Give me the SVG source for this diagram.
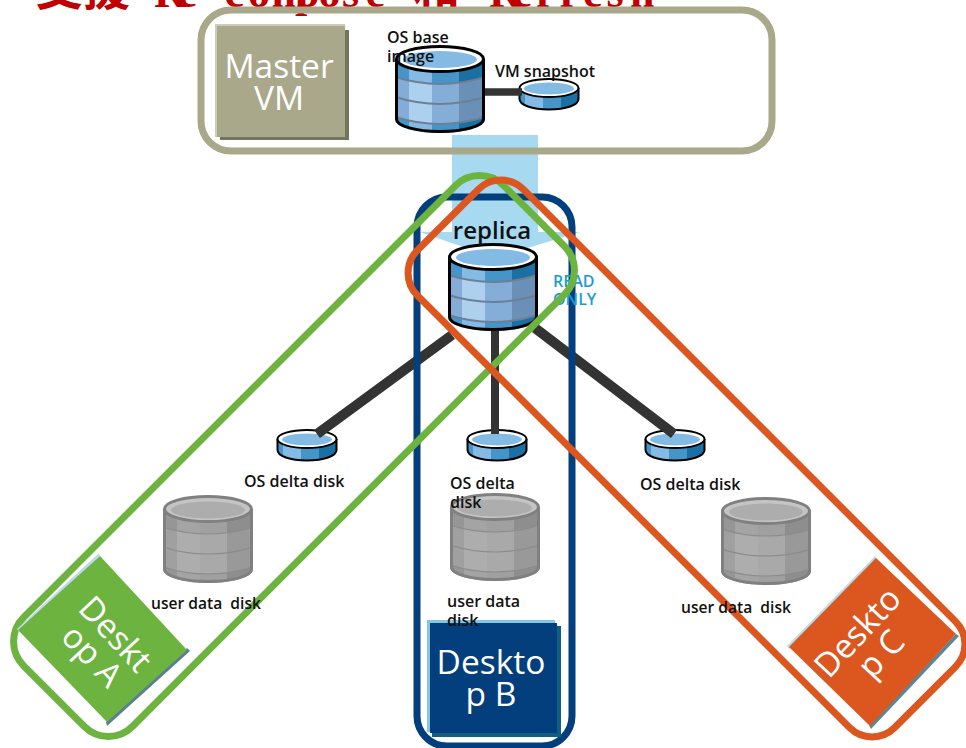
<svg xmlns="http://www.w3.org/2000/svg" width="966" height="748" viewBox="0 0 966 748">
<style>
text{font-family:"Open Sans","Noto Sans","Liberation Sans",sans-serif}
.lb{font-size:16px;font-weight:600;fill:#111}
.ud{font-size:15.600px}
.big{font-size:33.500px;font-weight:500;fill:#fff;text-anchor:middle}
.ro{font-size:16px;font-weight:600;fill:#1a9cd8}
.frame{fill:none;stroke-width:7}
.spoke{stroke:#333;stroke-width:10;fill:none}
.tc{font-size:47px;font-weight:700;fill:#c00000;font-family:"Noto Sans CJK TC",serif}
.tl{font-size:44px;font-weight:700;fill:#c00000;font-family:"Liberation Serif",serif}
</style>
<defs>
<clipPath id="bodyClip"><path d="M0 14V74C0 82 20 88 45 88S90 82 90 74V14Z"/></clipPath>
<clipPath id="midClip"><path d="M0 32Q45 46 90 32V72Q45 86 0 72Z"/></clipPath>
<clipPath id="smallClip"><path d="M1 10V21C1 27 14 32 31 32S61 27 61 21V10Z"/></clipPath>
<g id="cylBlue">
<g clip-path="url(#bodyClip)">
<rect x="0" y="0" width="14" height="90" fill="#4595c9"/>
<rect x="14" y="0" width="23" height="90" fill="#84bae4"/>
<rect x="37" y="0" width="27" height="90" fill="#4595c9"/>
<rect x="64" y="0" width="26" height="90" fill="#1a6fa3"/>
<g clip-path="url(#midClip)">
<rect x="0" y="0" width="14" height="90" fill="#84acd6"/>
<rect x="14" y="0" width="23" height="90" fill="#aed0ef"/>
<rect x="37" y="0" width="27" height="90" fill="#84aed8"/>
<rect x="64" y="0" width="26" height="90" fill="#6b90b8"/>
</g>
<path d="M0 32Q45 46 90 32M0 52Q45 66 90 52M0 72Q45 86 90 72" fill="none" stroke="#6c7f95" stroke-width="2"/>
</g>
<path d="M1.500 14V74C1.500 81 21 86.500 45 86.500S88.500 81 88.500 74V14" fill="none" stroke="#000" stroke-width="3"/>
<ellipse cx="45" cy="14" rx="43.500" ry="12.500" fill="#fff" stroke="#000" stroke-width="3"/>
<ellipse cx="45" cy="14.500" rx="37" ry="8.500" fill="#84bbe5"/>
</g>
<g id="cylGrey">
<g clip-path="url(#bodyClip)">
<rect x="0" y="0" width="14" height="90" fill="#969696"/>
<rect x="14" y="0" width="23" height="90" fill="#a4a4a4"/>
<rect x="37" y="0" width="27" height="90" fill="#a0a0a0"/>
<rect x="64" y="0" width="26" height="90" fill="#8e8e8e"/>
<path d="M0 32Q45 46 90 32V72Q45 86 0 72Z" fill="#fff" opacity=".1"/>
<path d="M0 32Q45 46 90 32M0 52Q45 66 90 52M0 72Q45 86 90 72" fill="none" stroke="#8c8c8c" stroke-width="1.200"/>
</g>
<path d="M1.500 14V74C1.500 81 21 86.500 45 86.500S88.500 81 88.500 74V14" fill="none" stroke="#808080" stroke-width="3"/>
<ellipse cx="45" cy="14" rx="43.500" ry="12.500" fill="#c4c4c4" stroke="#808080" stroke-width="3"/>
<ellipse cx="45" cy="15" rx="37" ry="8.500" fill="#adadad"/>
</g>
<g id="cylSmall">
<g clip-path="url(#smallClip)">
<rect x="0" y="0" width="7" height="33" fill="#4595c9"/>
<rect x="7" y="0" width="18" height="33" fill="#84bae4"/>
<rect x="25" y="0" width="18" height="33" fill="#4595c9"/>
<rect x="43" y="0" width="19" height="33" fill="#1a6fa3"/>
</g>
<path d="M1.500 10V21C1.500 27 14 31.500 31 31.500S60.500 27 60.500 21V10" fill="none" stroke="#000" stroke-width="2"/>
<ellipse cx="31" cy="10" rx="29.500" ry="9" fill="#fff" stroke="#000" stroke-width="2"/>
<ellipse cx="31" cy="10.500" rx="25" ry="6" fill="#84bbe5"/>
</g>
</defs>

<g id="title">
<text class="tc" x="36" y="5">支援</text>
<text class="tl" y="7" x="154 177.500 201 224.500 248 271.500 295 318.500 342 365.500">Re-compose</text>
<text class="tc" x="413" y="5">和</text>
<text class="tl" y="7" x="489 512.500 536 559.500 583 606.500 630">Refresh</text>
</g>

<path id="flow" d="M452 135H538V232H580L495 258L420 232H452Z" fill="#a7daf0"/>

<g id="master-frame"><rect x="201" y="10" width="571" height="141" rx="30" class="frame" stroke="#a9a88a"/></g>

<g id="master-vm">
<rect x="215" y="24" width="130" height="113" fill="#ccccb8"/>
<rect x="220" y="30" width="129" height="110" fill="#75755f"/>
<rect x="217" y="26" width="128" height="111" fill="#a9a88a"/>
<text class="big" x="279" y="78">Master</text>
<text class="big" x="279" y="110">VM</text>
</g>

<g id="delta-a"><use href="#cylSmall" x="276" y="429"/><text class="lb" x="244" y="487">OS delta disk</text></g>
<g id="delta-c"><use href="#cylSmall" x="644" y="429"/><text class="lb" x="640" y="490">OS delta disk</text></g>
<g id="user-b-disk"><use href="#cylGrey" x="450" y="493"/></g>
<g id="delta-b"><use href="#cylSmall" x="466" y="429"/><text class="lb" x="450" y="489">OS delta</text><text class="lb" x="450" y="508">disk</text></g>
<g id="vm-snapshot"><use href="#cylSmall" x="518" y="78"/></g>

<g id="connectors">
<path class="spoke" style="stroke-width:7.500" d="M485 92H522"/>
<path class="spoke" d="M452 335L317 434"/>
<path class="spoke" style="stroke-width:8" d="M495 328V434"/>
<path class="spoke" d="M535 328L674 434"/>
</g>

<g id="os-base"><use href="#cylBlue" x="395" y="45"/><text class="lb" x="387" y="43">OS base</text><text class="lb" x="387" y="62">image</text></g>
<text id="vm-snapshot-label" class="lb" x="495" y="77">VM snapshot</text>

<g id="frame-b"><rect x="417" y="197" width="155" height="549" rx="30" class="frame" stroke="#033f7d"/></g>

<g id="replica"><use href="#cylBlue" x="448" y="243"/><text x="492" y="239" font-size="24" font-weight="600" text-anchor="middle" fill="#111">replica</text>
<text class="ro" x="553" y="287">READ</text><text class="ro" x="553" y="305">ONLY</text></g>

<g id="frame-a"><rect x="217" y="116.500" width="154" height="679" rx="34" class="frame" stroke="#6db33f" transform="rotate(45 294 456)"/></g>
<g id="frame-c"><rect x="349" y="383.500" width="675" height="150" rx="32" class="frame" stroke="#dc571f" transform="rotate(45 686.500 458.500)"/></g>

<g id="user-a"><use href="#cylGrey" x="163" y="495"/><text class="lb ud" x="151" y="609" xml:space="preserve">user data  disk</text></g>
<g id="user-c"><use href="#cylGrey" x="721" y="497"/><text class="lb ud" x="681" y="613" xml:space="preserve">user data  disk</text></g>

<g id="desktop-a">
<path d="M99 553L17 629L19 632L100 556Z" fill="#bcdcea"/>
<path d="M107 726L190 651L187 648L106 722Z" fill="#5b7f8f"/>
<path d="M100 556L187 650L107 722L18 630Z" fill="#6db33f"/>
<g transform="translate(107 642) rotate(47)"><text class="big" x="0" y="0">Deskt</text><text class="big" x="0" y="32">op A</text></g>
</g>

<g id="desktop-b">
<rect x="427" y="620" width="128" height="112" fill="#85c6e6"/>
<rect x="432" y="626" width="129" height="111" fill="#0f5f84"/>
<rect x="430" y="623" width="127" height="110" fill="#033f7d"/>
<text class="big" x="491" y="674">Deskto</text><text class="big" x="491" y="706">p B</text>
<text class="lb" x="447" y="607">user data</text><text class="lb" x="447" y="626">disk</text>
</g>

<g id="desktop-c">
<path d="M875 556L787 646L789 649L877 559Z" fill="#bcdcea"/>
<path d="M871 729L959 636L956 634L869 725Z" fill="#5b8794"/>
<path d="M876 558L956 634L870 726L789 647Z" fill="#dc571f"/>
<g transform="translate(866 640) rotate(-47)"><text class="big" x="0" y="0">Deskto</text><text class="big" x="0" y="32">p C</text></g>
</g>
</svg>
